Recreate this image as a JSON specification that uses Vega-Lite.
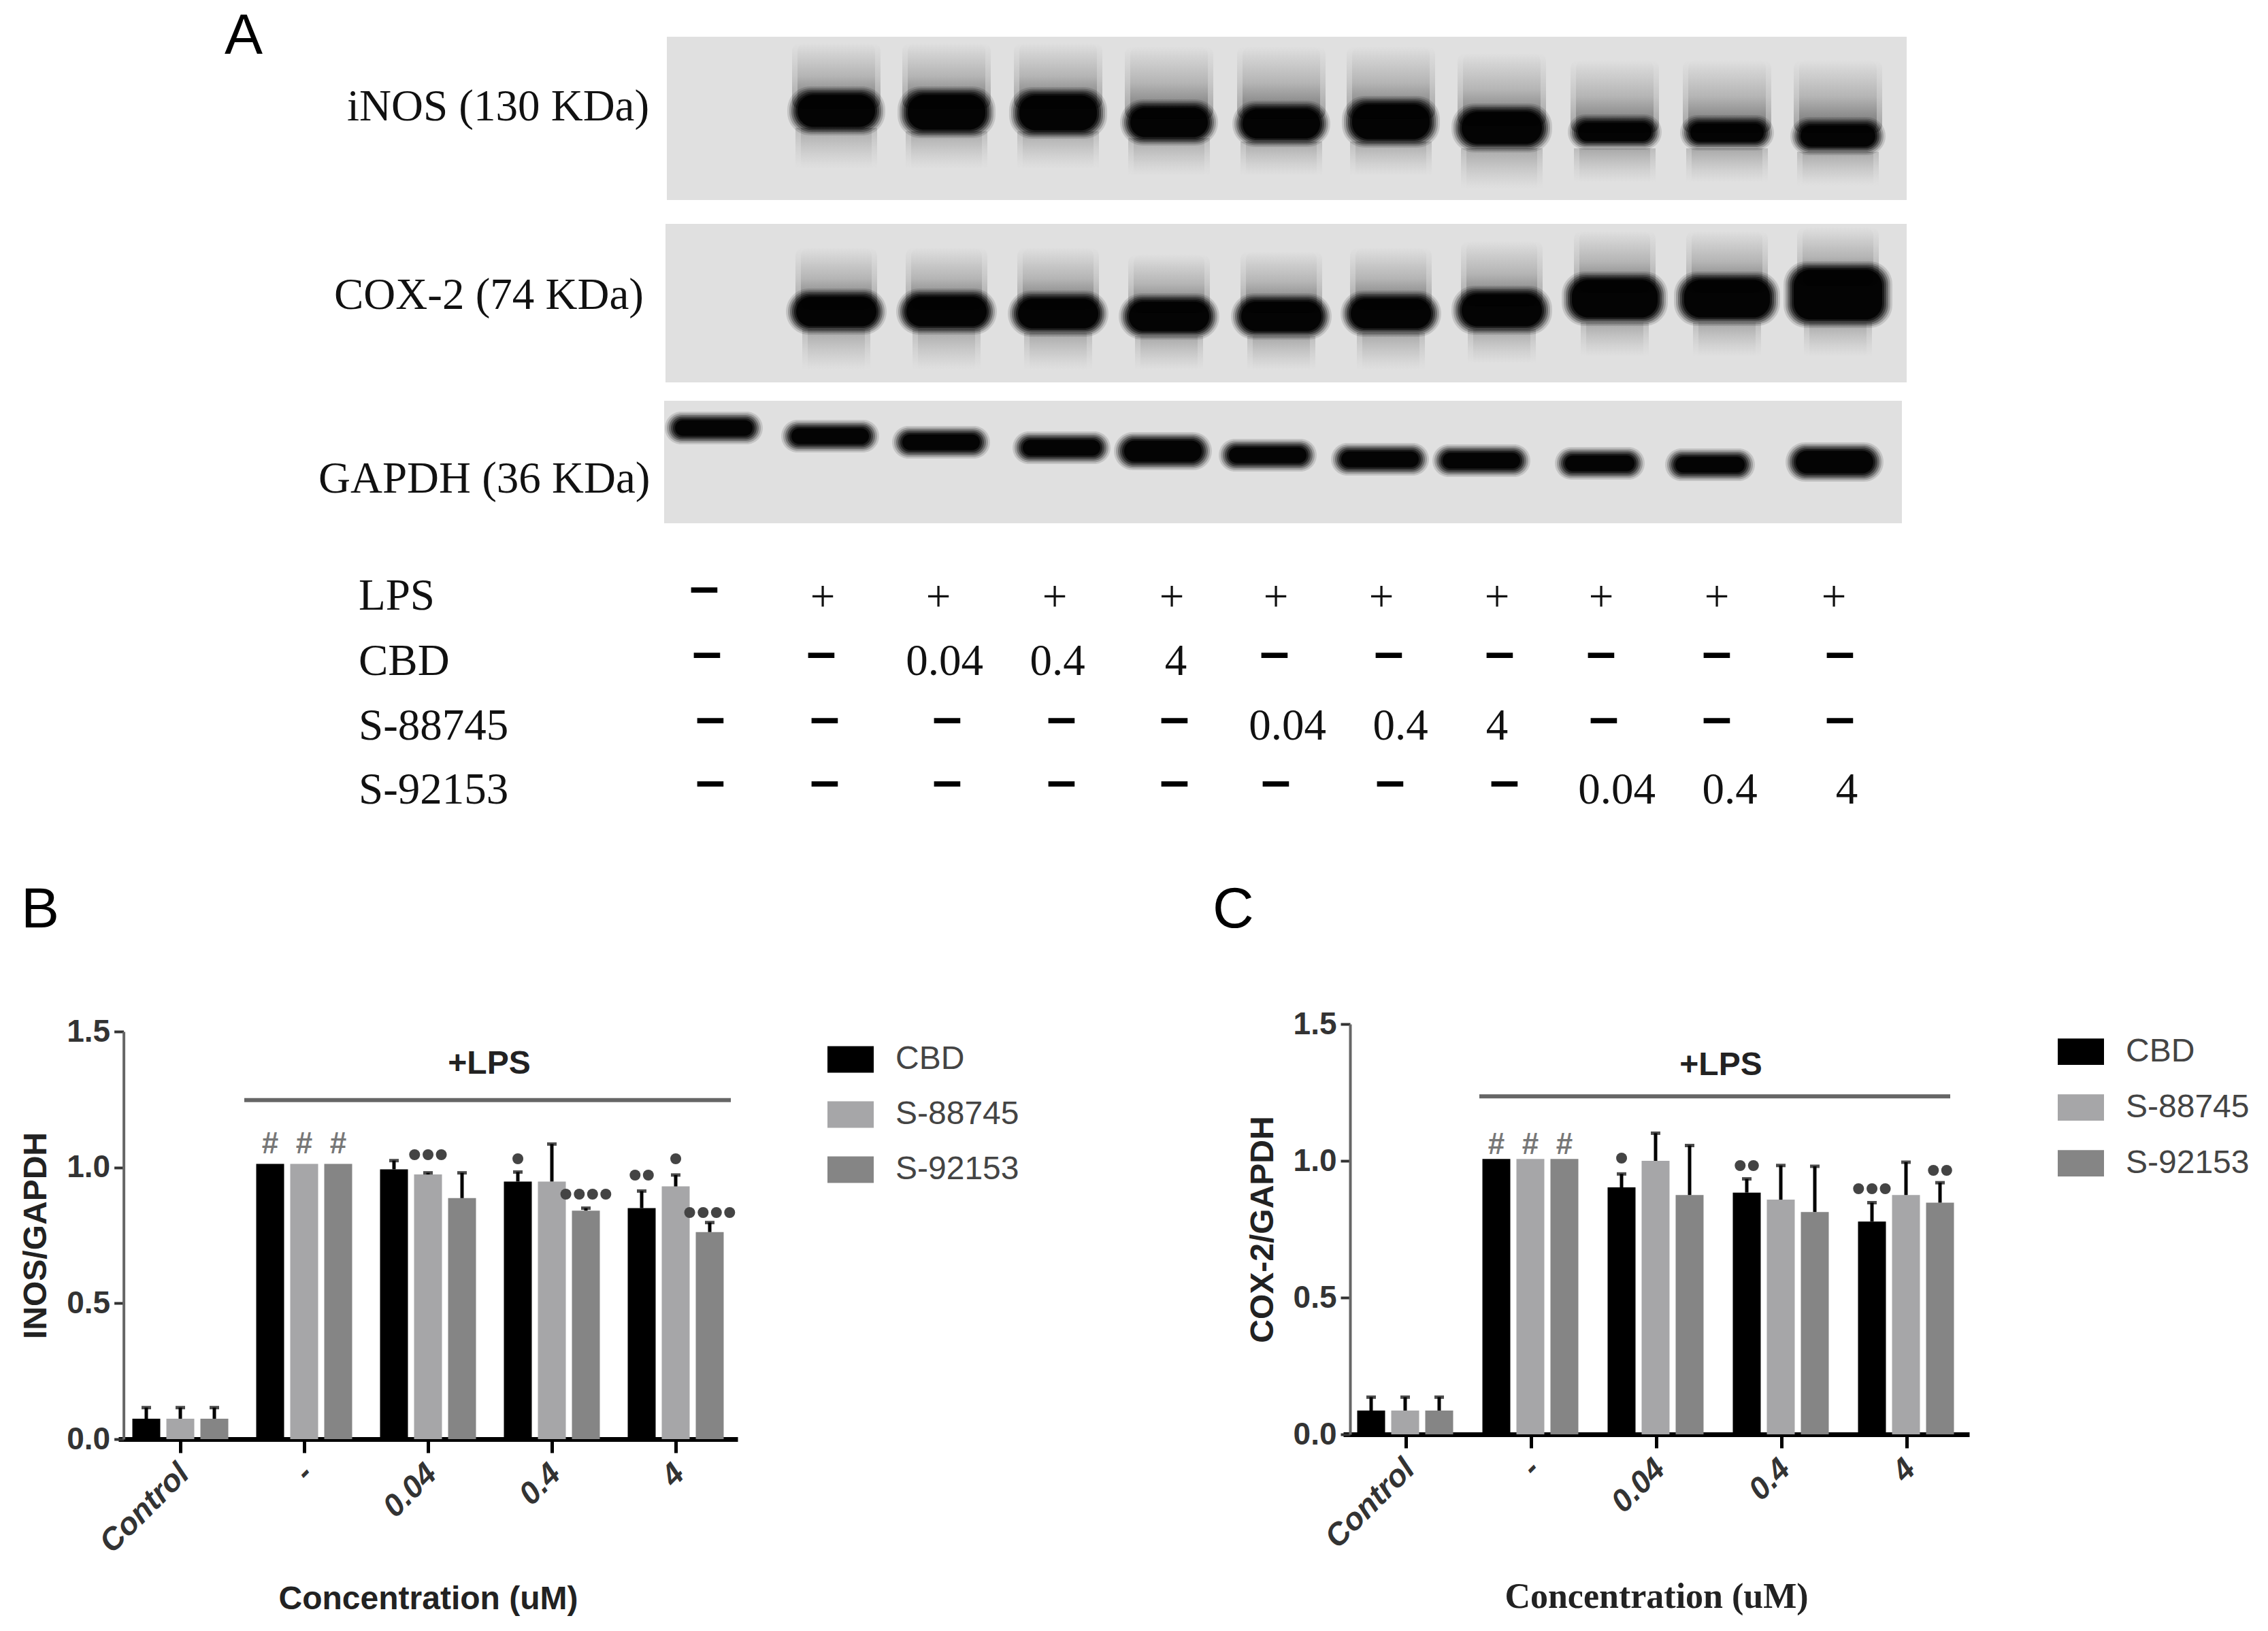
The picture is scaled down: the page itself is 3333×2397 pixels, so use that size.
{"$schema":"https://vega.github.io/schema/vega-lite/v6.json","padding":0,"background":"white","bounds":"flush","spacing":0,
"resolve":{"scale":{"fill":"independent"},"legend":{"fill":"independent"}},
"config":{"view":{"stroke":null},"concat":{"spacing":0},"font":"Liberation Sans"},
"datasets":{
"bg":[{"x0":98,"x1":280.2,"y0":5.4,"y1":29.4},{"x0":97.8,"x1":280.2,"y0":32.9,"y1":56.2},{"x0":97.6,"x1":279.5,"y0":58.9,"y1":76.9}],
"bands":[
{"x0":115.7,"x1":130.1,"y0":12.7,"y1":19.9},{"x0":131.9,"x1":146.3,"y0":12.7,"y1":20.3},{"x0":148.3,"x1":162.7,"y0":12.8,"y1":20.4},{"x0":164.6,"x1":179.0,"y0":14.6,"y1":21.4},{"x0":181.1,"x1":195.5,"y0":14.8,"y1":21.6},{"x0":197.2,"x1":211.6,"y0":14.1,"y1":21.7},{"x0":213.3,"x1":228.1,"y0":15.2,"y1":22.4},{"x0":230.4,"x1":244.2,"y0":16.8,"y1":22.0},{"x0":246.9,"x1":260.7,"y0":16.9,"y1":22.1},{"x0":263.1,"x1":277.1,"y0":17.2,"y1":22.8},
{"x0":115.5,"x1":130.3,"y0":42.4,"y1":49.2},{"x0":131.7,"x1":146.5,"y0":42.4,"y1":49.2},{"x0":148.1,"x1":162.9,"y0":42.7,"y1":49.5},{"x0":164.4,"x1":179.2,"y0":43.1,"y1":49.9},{"x0":180.9,"x1":195.7,"y0":43.1,"y1":49.9},{"x0":197.0,"x1":211.8,"y0":42.7,"y1":49.5},{"x0":213.3,"x1":228.1,"y0":42.0,"y1":49.2},{"x0":229.5,"x1":245.1,"y0":39.9,"y1":47.9},{"x0":246.0,"x1":261.6,"y0":39.9,"y1":47.9},{"x0":262.1,"x1":278.1,"y0":38.4,"y1":48.2},
{"x0":97.7,"x1":112.1,"y0":60.5,"y1":65.3},{"x0":114.8,"x1":129.2,"y0":61.7,"y1":66.5},{"x0":131.1,"x1":145.5,"y0":62.6,"y1":67.4},{"x0":148.8,"x1":163.2,"y0":63.4,"y1":68.2},{"x0":163.7,"x1":178.1,"y0":63.5,"y1":69.1},{"x0":179.1,"x1":193.5,"y0":64.5,"y1":69.3},{"x0":195.6,"x1":210.0,"y0":65.1,"y1":69.9},{"x0":210.5,"x1":224.9,"y0":65.3,"y1":70.1},{"x0":228.5,"x1":241.7,"y0":65.7,"y1":70.5},{"x0":244.7,"x1":257.9,"y0":65.9,"y1":70.7},{"x0":262.4,"x1":276.8,"y0":65.0,"y1":70.8}],
"smearUp":[
{"x0":116.4,"x1":129.4,"y0":6.3,"y1":16},{"x0":132.6,"x1":145.6,"y0":6.3,"y1":16},{"x0":149.0,"x1":162.0,"y0":6.3,"y1":16},{"x0":165.3,"x1":178.3,"y0":6.8,"y1":17.5},{"x0":181.8,"x1":194.8,"y0":6.8,"y1":17.5},{"x0":197.9,"x1":210.9,"y0":6.8,"y1":17.5},{"x0":214.2,"x1":227.2,"y0":7.8,"y1":18.5},{"x0":230.8,"x1":243.8,"y0":8.8,"y1":19.5},{"x0":247.3,"x1":260.3,"y0":8.8,"y1":19.5},{"x0":263.6,"x1":276.6,"y0":8.8,"y1":19.5},
{"x0":116.9,"x1":128.9,"y0":36.4,"y1":45.5},{"x0":133.1,"x1":145.1,"y0":36.4,"y1":45.5},{"x0":149.5,"x1":161.5,"y0":36.4,"y1":45.5},{"x0":165.8,"x1":177.8,"y0":37.4,"y1":46},{"x0":182.3,"x1":194.3,"y0":36.9,"y1":46},{"x0":198.4,"x1":210.4,"y0":36.4,"y1":45.5},{"x0":214.7,"x1":226.7,"y0":35.4,"y1":45},{"x0":231.3,"x1":243.3,"y0":33.9,"y1":43},{"x0":247.8,"x1":259.8,"y0":33.9,"y1":43},{"x0":264.1,"x1":276.1,"y0":33.4,"y1":42}],
"smearDown":[
{"x0":116.9,"x1":128.9,"y0":18.8,"y1":24.8},{"x0":133.1,"x1":145.1,"y0":19.3,"y1":24.8},{"x0":149.5,"x1":161.5,"y0":19.3,"y1":24.8},{"x0":165.8,"x1":177.8,"y0":20.3,"y1":25.8},{"x0":182.3,"x1":194.3,"y0":20.8,"y1":25.8},{"x0":198.4,"x1":210.4,"y0":20.8,"y1":25.8},{"x0":214.7,"x1":226.7,"y0":21.8,"y1":27.8},{"x0":231.3,"x1":243.3,"y0":21.8,"y1":26.8},{"x0":247.8,"x1":259.8,"y0":21.8,"y1":26.8},{"x0":264.1,"x1":276.1,"y0":22.3,"y1":27.3},
{"x0":117.9,"x1":127.9,"y0":48.4,"y1":54.4},{"x0":134.1,"x1":144.1,"y0":48.4,"y1":54.4},{"x0":150.5,"x1":160.5,"y0":48.9,"y1":54.4},{"x0":166.8,"x1":176.8,"y0":49.4,"y1":54.4},{"x0":183.3,"x1":193.3,"y0":49.4,"y1":54.4},{"x0":199.4,"x1":209.4,"y0":48.9,"y1":54.4},{"x0":215.7,"x1":225.7,"y0":48.4,"y1":53.4},{"x0":232.3,"x1":242.3,"y0":47.4,"y1":52.4},{"x0":248.8,"x1":258.8,"y0":47.4,"y1":52.4},{"x0":265.1,"x1":275.1,"y0":47.4,"y1":52.4}],
"labels":[
{"t":"iNOS (130 KDa)","x0":51,"y0":15.7},{"t":"COX-2 (74 KDa)","x0":49.1,"y0":43.4},{"t":"GAPDH (36 KDa)","x0":46.8,"y0":70.4},
{"t":"LPS","x0":52.7,"y0":87.6},{"t":"CBD","x0":52.7,"y0":97.2},{"t":"S-88745","x0":52.7,"y0":106.7},{"t":"S-92153","x0":52.7,"y0":116.1}],
"values":[
{"t":"+","x0":120.9,"y0":87.8},{"t":"+","x0":137.9,"y0":87.8},{"t":"+","x0":155,"y0":87.8},{"t":"+","x0":172.2,"y0":87.8},{"t":"+","x0":187.5,"y0":87.8},{"t":"+","x0":203,"y0":87.8},{"t":"+","x0":220,"y0":87.8},{"t":"+","x0":235.3,"y0":87.8},{"t":"+","x0":252.3,"y0":87.8},{"t":"+","x0":269.5,"y0":87.8},
{"t":"0.04","x0":138.8,"y0":97.2},{"t":"0.4","x0":155.4,"y0":97.2},{"t":"4","x0":172.8,"y0":97.2},
{"t":"0.04","x0":189.2,"y0":106.7},{"t":"0.4","x0":205.8,"y0":106.7},{"t":"4","x0":220,"y0":106.7},
{"t":"0.04","x0":237.6,"y0":116.1},{"t":"0.4","x0":254.2,"y0":116.1},{"t":"4","x0":271.4,"y0":116.1}],
"dashes":[
{"t":"–","x0":103.5,"y0":86.5},
{"t":"–","x0":103.9,"y0":96.1},{"t":"–","x0":120.7,"y0":96.1},{"t":"–","x0":187.3,"y0":96.1},{"t":"–","x0":204.1,"y0":96.1},{"t":"–","x0":220.4,"y0":96.1},{"t":"–","x0":235.3,"y0":96.1},{"t":"–","x0":252.3,"y0":96.1},{"t":"–","x0":270.4,"y0":96.1},
{"t":"–","x0":104.4,"y0":105.7},{"t":"–","x0":121.2,"y0":105.7},{"t":"–","x0":139.2,"y0":105.7},{"t":"–","x0":156,"y0":105.7},{"t":"–","x0":172.6,"y0":105.7},{"t":"–","x0":235.7,"y0":105.7},{"t":"–","x0":252.3,"y0":105.7},{"t":"–","x0":270.4,"y0":105.7},
{"t":"–","x0":104.4,"y0":115},{"t":"–","x0":121.2,"y0":115},{"t":"–","x0":139.2,"y0":115},{"t":"–","x0":156,"y0":115},{"t":"–","x0":172.6,"y0":115},{"t":"–","x0":187.5,"y0":115},{"t":"–","x0":204.3,"y0":115},{"t":"–","x0":221.1,"y0":115}],
"letters":[{"t":"A","x0":33,"y0":5.4},{"t":"B","x0":3.1,"y0":133.8},{"t":"C","x0":178.2,"y0":133.8}],
"barsB":[
{"g":"Control","s":"CBD","v":0.075,"e":0.116},{"g":"Control","s":"S-88745","v":0.075,"e":0.116},{"g":"Control","s":"S-92153","v":0.075,"e":0.116},
{"g":"-","s":"CBD","v":1.013},{"g":"-","s":"S-88745","v":1.013},{"g":"-","s":"S-92153","v":1.013},
{"g":"0.04","s":"CBD","v":0.993,"e":1.025},{"g":"0.04","s":"S-88745","v":0.974,"e":0.98},{"g":"0.04","s":"S-92153","v":0.887,"e":0.98},
{"g":"0.4","s":"CBD","v":0.948,"e":0.983},{"g":"0.4","s":"S-88745","v":0.948,"e":1.086},{"g":"0.4","s":"S-92153","v":0.841,"e":0.85},
{"g":"4","s":"CBD","v":0.85,"e":0.913},{"g":"4","s":"S-88745","v":0.93,"e":0.972},{"g":"4","s":"S-92153","v":0.762,"e":0.797}],
"sigB":[
{"g":"0.04","s":"S-88745","y":1.043,"t":"•••"},{"g":"0.4","s":"CBD","y":1.03,"t":"•"},{"g":"0.4","s":"S-92153","y":0.899,"t":"••••"},
{"g":"4","s":"CBD","y":0.969,"t":"••"},{"g":"4","s":"S-88745","y":1.03,"t":"•"},{"g":"4","s":"S-92153","y":0.832,"t":"••••"}],
"hashB":[{"g":"-","s":"CBD","y":1.085,"t":"#"},{"g":"-","s":"S-88745","y":1.085,"t":"#"},{"g":"-","s":"S-92153","y":1.085,"t":"#"}],
"lpsB":[{"a":"-","b":"4","y":1.248,"m":"0.04","ty":1.38,"t":"+LPS"}],
"barsC":[
{"g":"Control","s":"CBD","v":0.087,"e":0.136},{"g":"Control","s":"S-88745","v":0.087,"e":0.136},{"g":"Control","s":"S-92153","v":0.087,"e":0.136},
{"g":"-","s":"CBD","v":1.007},{"g":"-","s":"S-88745","v":1.007},{"g":"-","s":"S-92153","v":1.007},
{"g":"0.04","s":"CBD","v":0.903,"e":0.952},{"g":"0.04","s":"S-88745","v":1.0,"e":1.101},{"g":"0.04","s":"S-92153","v":0.875,"e":1.056},
{"g":"0.4","s":"CBD","v":0.884,"e":0.934},{"g":"0.4","s":"S-88745","v":0.858,"e":0.983},{"g":"0.4","s":"S-92153","v":0.813,"e":0.98},
{"g":"4","s":"CBD","v":0.778,"e":0.847},{"g":"4","s":"S-88745","v":0.875,"e":0.995},{"g":"4","s":"S-92153","v":0.847,"e":0.92}],
"sigC":[
{"g":"0.04","s":"CBD","y":1.007,"t":"•"},{"g":"0.4","s":"CBD","y":0.98,"t":"••"},{"g":"4","s":"CBD","y":0.896,"t":"•••"},{"g":"4","s":"S-92153","y":0.962,"t":"••"}],
"hashC":[{"g":"-","s":"CBD","y":1.056,"t":"#"},{"g":"-","s":"S-88745","y":1.056,"t":"#"},{"g":"-","s":"S-92153","y":1.056,"t":"#"}],
"lpsC":[{"a":"-","b":"4","y":1.236,"m":"0.04","ty":1.348,"t":"+LPS"}]
},
"vconcat":[
{"width":3333,"height":1505,
"encoding":{"x":{"field":"x0","type":"quantitative","axis":null,"scale":{"domain":[0,333.3],"nice":false,"zero":false}},"y":{"field":"y0","type":"quantitative","axis":null,"scale":{"domain":[150.5,0],"nice":false,"zero":false}}},
"layer":[
{"data":{"name":"bg"},"mark":{"type":"rect","fill":"#e0e0e0"},"encoding":{"x2":{"field":"x1"},"y2":{"field":"y1"}}},
{"data":{"name":"smearUp"},"mark":{"type":"rect","cornerRadius":12,"fill":{"gradient":"linear","x1":0,"y1":0,"x2":0,"y2":1,"stops":[{"offset":0,"color":"rgba(120,120,120,0)"},{"offset":0.5,"color":"rgba(110,110,110,0.22)"},{"offset":1,"color":"rgba(90,90,90,0.5)"}]}},"encoding":{"x2":{"field":"x1"},"y2":{"field":"y1"}}},
{"data":{"name":"smearUp"},"mark":{"type":"rect","cornerRadius":12,"xOffset":8,"x2Offset":-8,"fill":{"gradient":"linear","x1":0,"y1":0,"x2":0,"y2":1,"stops":[{"offset":0,"color":"rgba(120,120,120,0)"},{"offset":0.5,"color":"rgba(110,110,110,0.2)"},{"offset":1,"color":"rgba(70,70,70,0.6)"}]}},"encoding":{"x2":{"field":"x1"},"y2":{"field":"y1"}}},
{"data":{"name":"smearDown"},"mark":{"type":"rect","fill":{"gradient":"linear","x1":0,"y1":0,"x2":0,"y2":1,"stops":[{"offset":0,"color":"rgba(120,120,120,0.35)"},{"offset":1,"color":"rgba(170,170,170,0)"}]}},"encoding":{"x2":{"field":"x1"},"y2":{"field":"y1"}}},
{"data":{"name":"smearDown"},"mark":{"type":"rect","xOffset":8,"x2Offset":-8,"fill":{"gradient":"linear","x1":0,"y1":0,"x2":0,"y2":1,"stops":[{"offset":0,"color":"rgba(120,120,120,0.3)"},{"offset":1,"color":"rgba(170,170,170,0)"}]}},"encoding":{"x2":{"field":"x1"},"y2":{"field":"y1"}}},
{"data":{"name":"bands"},"mark":{"type":"rect","fill":"black","opacity":0.12,"cornerRadius":34},"encoding":{"x2":{"field":"x1"},"y2":{"field":"y1"}}},
{"data":{"name":"bands"},"mark":{"type":"rect","fill":"black","opacity":0.2,"cornerRadius":32,"xOffset":3,"x2Offset":-3,"yOffset":2.5,"y2Offset":-2.5},"encoding":{"x2":{"field":"x1"},"y2":{"field":"y1"}}},
{"data":{"name":"bands"},"mark":{"type":"rect","fill":"black","opacity":0.3,"cornerRadius":30,"xOffset":6,"x2Offset":-6,"yOffset":5,"y2Offset":-5},"encoding":{"x2":{"field":"x1"},"y2":{"field":"y1"}}},
{"data":{"name":"bands"},"mark":{"type":"rect","fill":"black","opacity":0.4,"cornerRadius":28,"xOffset":9,"x2Offset":-9,"yOffset":7.5,"y2Offset":-7.5},"encoding":{"x2":{"field":"x1"},"y2":{"field":"y1"}}},
{"data":{"name":"bands"},"mark":{"type":"rect","fill":"black","opacity":0.55,"cornerRadius":26,"xOffset":12,"x2Offset":-12,"yOffset":10,"y2Offset":-10},"encoding":{"x2":{"field":"x1"},"y2":{"field":"y1"}}},
{"data":{"name":"bands"},"mark":{"type":"rect","fill":"black","opacity":0.85,"cornerRadius":24,"xOffset":15,"x2Offset":-15,"yOffset":12.5,"y2Offset":-12.5},"encoding":{"x2":{"field":"x1"},"y2":{"field":"y1"}}},
{"data":{"name":"labels"},"mark":{"type":"text","font":"Liberation Serif","fontSize":65,"align":"left","baseline":"middle","color":"#111"},"encoding":{"text":{"field":"t"}}},
{"data":{"name":"values"},"mark":{"type":"text","font":"Liberation Serif","fontSize":65,"align":"center","baseline":"middle","color":"#111"},"encoding":{"text":{"field":"t"}}},
{"data":{"name":"dashes"},"mark":{"type":"text","font":"Liberation Sans","fontWeight":"bold","fontSize":78,"align":"center","baseline":"middle","color":"#000"},"encoding":{"text":{"field":"t"}}},
{"data":{"name":"letters"},"mark":{"type":"text","font":"Liberation Sans","fontSize":84,"align":"left","baseline":"middle","color":"#000"},"encoding":{"text":{"field":"t"}}}
]},
{"bounds":"flush","spacing":0,"resolve":{"scale":{"fill":"independent"},"legend":{"fill":"independent"}},"hconcat":[
{"width":174,"height":892,"data":{"values":[]},"mark":"rect"},
{"bounds":"flush","spacing":0,"resolve":{"scale":{"fill":"independent"},"legend":{"fill":"independent"}},"vconcat":[
{"width":910,"height":11,"data":{"values":[]},"mark":"rect"},
{"width":910,"height":599,
"layer":[
{"data":{"name":"barsB"},"mark":{"type":"bar"},"encoding":{
"x":{"field":"g","type":"nominal","sort":null,"scale":{"domain":["Control","-","0.04","0.4","4"],"paddingInner":0,"paddingOuter":0},"axis":{"title":"Concentration (uM)","titleFont":"Liberation Sans","titleFontSize":48,"titleFontWeight":"bold","titleColor":"#222","titlePadding":36,"labelAngle":-45,"labelOffset":-10,"labelFont":"Liberation Sans","labelFontStyle":"italic","labelFontWeight":"bold","labelFontSize":46,"labelColor":"#333","labelPadding":8,"tickSize":20,"tickWidth":5,"tickColor":"#000","domainWidth":7,"domainColor":"#000","grid":false}},
"xOffset":{"field":"s","type":"nominal","scale":{"domain":["CBD","S-88745","S-92153"],"paddingInner":0.18,"paddingOuter":0.41}},
"y":{"field":"v","type":"quantitative","scale":{"domain":[0,1.5],"nice":false},"axis":{"title":"INOS/GAPDH","titleFont":"Liberation Sans","titleFontSize":48,"titleFontWeight":"bold","titleColor":"#222","titlePadding":20,"values":[0,0.5,1,1.5],"format":".1f","offset":-7.6,"labelFont":"Liberation Sans","labelFontWeight":"bold","labelFontSize":46,"labelColor":"#333","labelPadding":6,"tickSize":14,"tickWidth":4,"tickColor":"#333","domainWidth":4,"domainColor":"#666","grid":false}},
"fill":{"field":"s","type":"nominal","scale":{"domain":["CBD","S-88745","S-92153"],"range":["#000000","#a6a6a8","#858585"]},"legend":{"title":null,"orient":"none","legendX":1042,"legendY":7,"padding":0,"symbolType":"M-1,-0.57H1V0.57H-1Z","symbolSize":4624,"symbolStrokeWidth":0,"labelFont":"Liberation Sans","labelFontSize":48,"labelColor":"#444","labelOffset":32,"labelLimit":400,"rowPadding":23}}}},
{"data":{"name":"barsB"},"transform":[{"filter":"datum.e != null"}],"mark":{"type":"rule","color":"#000","strokeWidth":5},"encoding":{"x":{"field":"g","type":"nominal"},"xOffset":{"field":"s","type":"nominal"},"y":{"field":"v","type":"quantitative"},"y2":{"field":"e"}}},
{"data":{"name":"barsB"},"transform":[{"filter":"datum.e != null"}],"mark":{"type":"tick","color":"#000","size":14,"thickness":5},"encoding":{"x":{"field":"g","type":"nominal"},"xOffset":{"field":"s","type":"nominal"},"y":{"field":"e","type":"quantitative"}}},
{"data":{"name":"sigB"},"mark":{"type":"text","font":"Liberation Sans","fontWeight":"bold","fontSize":56,"color":"#444","baseline":"middle"},"encoding":{"x":{"field":"g","type":"nominal"},"xOffset":{"field":"s","type":"nominal"},"y":{"field":"y","type":"quantitative"},"text":{"field":"t"}}},
{"data":{"name":"hashB"},"mark":{"type":"text","font":"Liberation Sans","fontWeight":"bold","fontSize":44,"color":"#777","baseline":"middle"},"encoding":{"x":{"field":"g","type":"nominal"},"xOffset":{"field":"s","type":"nominal"},"y":{"field":"y","type":"quantitative"},"text":{"field":"t"}}},
{"data":{"name":"lpsB"},"mark":{"type":"rule","color":"#666","strokeWidth":6,"xOffset":-88,"x2Offset":81},"encoding":{"x":{"field":"a","type":"nominal"},"x2":{"field":"b"},"y":{"field":"y","type":"quantitative"}}},
{"data":{"name":"lpsB"},"mark":{"type":"text","font":"Liberation Sans","fontWeight":"bold","fontSize":48,"color":"#222","dx":90,"baseline":"middle"},"encoding":{"x":{"field":"m","type":"nominal"},"y":{"field":"ty","type":"quantitative"},"text":{"field":"t"}}}
]}]},
{"width":1800,"height":892,"data":{"values":[]},"mark":"rect"},
{"width":920,"height":603,
"layer":[
{"data":{"name":"barsC"},"mark":{"type":"bar"},"encoding":{
"x":{"field":"g","type":"nominal","sort":null,"scale":{"domain":["Control","-","0.04","0.4","4"],"paddingInner":0,"paddingOuter":0},"axis":{"title":"Concentration (uM)","titleFont":"Liberation Serif","titleFontSize":52,"titleFontWeight":"bold","titleColor":"#222","titlePadding":38,"labelAngle":-45,"labelOffset":-10,"labelFont":"Liberation Sans","labelFontStyle":"italic","labelFontWeight":"bold","labelFontSize":46,"labelColor":"#333","labelPadding":8,"tickSize":20,"tickWidth":5,"tickColor":"#000","domainWidth":7,"domainColor":"#000","grid":false}},
"xOffset":{"field":"s","type":"nominal","scale":{"domain":["CBD","S-88745","S-92153"],"paddingInner":0.19,"paddingOuter":0.415}},
"y":{"field":"v","type":"quantitative","scale":{"domain":[0,1.5],"nice":false},"axis":{"title":"COX-2/GAPDH","titleFont":"Liberation Sans","titleFontSize":48,"titleFontWeight":"bold","titleColor":"#222","titlePadding":20,"values":[0,0.5,1,1.5],"format":".1f","offset":-10,"labelFont":"Liberation Sans","labelFontWeight":"bold","labelFontSize":46,"labelColor":"#333","labelPadding":6,"tickSize":14,"tickWidth":4,"tickColor":"#333","domainWidth":4,"domainColor":"#666","grid":false}},
"fill":{"field":"s","type":"nominal","scale":{"domain":["CBD","S-88745","S-92153"],"range":["#000000","#a6a6a8","#858585"]},"legend":{"title":null,"orient":"none","legendX":1050,"legendY":6.6,"padding":0,"symbolType":"M-1,-0.57H1V0.57H-1Z","symbolSize":4624,"symbolStrokeWidth":0,"labelFont":"Liberation Sans","labelFontSize":48,"labelColor":"#444","labelOffset":32,"labelLimit":400,"rowPadding":24}}}},
{"data":{"name":"barsC"},"transform":[{"filter":"datum.e != null"}],"mark":{"type":"rule","color":"#000","strokeWidth":5},"encoding":{"x":{"field":"g","type":"nominal"},"xOffset":{"field":"s","type":"nominal"},"y":{"field":"v","type":"quantitative"},"y2":{"field":"e"}}},
{"data":{"name":"barsC"},"transform":[{"filter":"datum.e != null"}],"mark":{"type":"tick","color":"#000","size":14,"thickness":5},"encoding":{"x":{"field":"g","type":"nominal"},"xOffset":{"field":"s","type":"nominal"},"y":{"field":"e","type":"quantitative"}}},
{"data":{"name":"sigC"},"mark":{"type":"text","font":"Liberation Sans","fontWeight":"bold","fontSize":56,"color":"#444","baseline":"middle"},"encoding":{"x":{"field":"g","type":"nominal"},"xOffset":{"field":"s","type":"nominal"},"y":{"field":"y","type":"quantitative"},"text":{"field":"t"}}},
{"data":{"name":"hashC"},"mark":{"type":"text","font":"Liberation Sans","fontWeight":"bold","fontSize":44,"color":"#777","baseline":"middle"},"encoding":{"x":{"field":"g","type":"nominal"},"xOffset":{"field":"s","type":"nominal"},"y":{"field":"y","type":"quantitative"},"text":{"field":"t"}}},
{"data":{"name":"lpsC"},"mark":{"type":"rule","color":"#666","strokeWidth":6,"xOffset":-76,"x2Offset":64},"encoding":{"x":{"field":"a","type":"nominal"},"x2":{"field":"b"},"y":{"field":"y","type":"quantitative"}}},
{"data":{"name":"lpsC"},"mark":{"type":"text","font":"Liberation Sans","fontWeight":"bold","fontSize":48,"color":"#222","dx":95,"baseline":"middle"},"encoding":{"x":{"field":"m","type":"nominal"},"y":{"field":"ty","type":"quantitative"},"text":{"field":"t"}}}
]}
]}
]}
